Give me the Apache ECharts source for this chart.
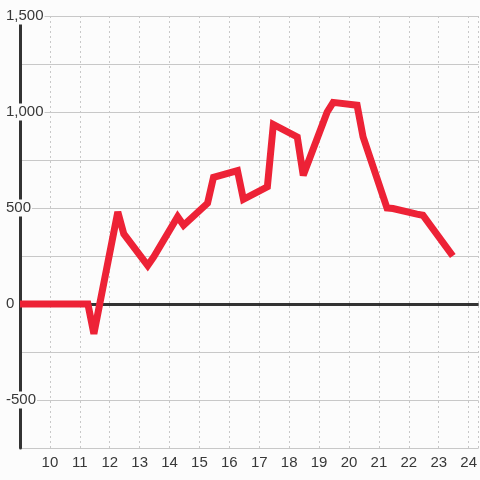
<!DOCTYPE html>
<html>
<head>
<meta charset="utf-8">
<script src="https://cdn.jsdelivr.net/npm/echarts@6/dist/echarts.min.js"></script>
<style>
  html, body {margin: 0; padding: 0; background: #fcfcfc;}
  #chart {width: 480px; height: 480px;}
</style>
</head>
<body>
<div id="chart"></div>
<script>
// hour of day (x) and value (y)
const hours = [9, 11.27, 11.47, 12.27, 12.47, 13.27, 13.47, 14.27, 14.47, 15.27, 15.47,
  16.27, 16.47, 17.27, 17.47, 18.27, 18.47, 19.27, 19.47, 20.27, 20.47,
  21.27, 21.47, 22.27, 22.47, 23.47];
const values = [0, 0, -155, 480, 365, 200, 245, 455, 410, 525, 660,
  695, 545, 610, 935, 870, 670, 1000, 1050, 1035, 870,
  500, 497, 468, 462, 250];
const xTicks = [10, 11, 12, 13, 14, 15, 16, 17, 18, 19, 20, 21, 22, 23, 24];
const yTicks = [-500, 0, 500, 1000, 1500];

const myChart = echarts.init(document.getElementById('chart'), null, {renderer: 'canvas'});

const labelFont = {
  fontFamily: '"Liberation Sans", Arial, sans-serif',
  fontSize: 15,
  color: '#383838',
};

const option = {
  backgroundColor: '#fcfcfc',
  animation: false,
  grid: {
    left: 20,
    right: 0,
    top: 16,
    bottom: 32,
  },
  xAxis: {
    type: 'value',
    min: 9,
    max: 24 + 1 / 3,
    interval: 1,
    axisLine: {show: false},
    axisTick: {show: false},
    axisLabel: {
      ...labelFont,
      margin: 7,
      showMaxLabel: false,
      formatter(v) {
        return xTicks.indexOf(v) !== -1 ? String(v) : '';
      },
    },
    splitLine: {
      show: true,
      lineStyle: {color: '#c8c8c8', width: 1, type: [2, 3]},
    },
  },
  yAxis: {
    type: 'value',
    min: -750,
    max: 1500,
    interval: 250,
    axisLine: {show: true, lineStyle: {color: '#333', width: 3}},
    axisTick: {show: false},
    axisLabel: {
      ...labelFont,
      align: 'left',
      margin: 15,
      backgroundColor: '#fcfcfc',
      padding: [1, 1],
      formatter(v) {
        if (yTicks.indexOf(v) === -1) return '';
        return v.toLocaleString('en-US');
      },
    },
    splitLine: {
      show: true,
      lineStyle: {color: '#c8c8c8', width: 1},
    },
  },
  series: [{
    // dark zero line, kept under the data line
    type: 'line',
    data: [],
    z: 1,
    markLine: {
      silent: true,
      symbol: 'none',
      label: {show: false},
      lineStyle: {color: '#333', width: 3, type: 'solid'},
      data: [{yAxis: 0}],
    },
  }, {
    type: 'line',
    data: hours.map((h, i) => [h, values[i]]),
    showSymbol: false,
    symbol: 'none',
    lineStyle: {color: '#ed2236', width: 7, join: 'miter', miterLimit: 3},
    z: 5,
  }],
};

myChart.setOption(option);
</script>
</body>
</html>
